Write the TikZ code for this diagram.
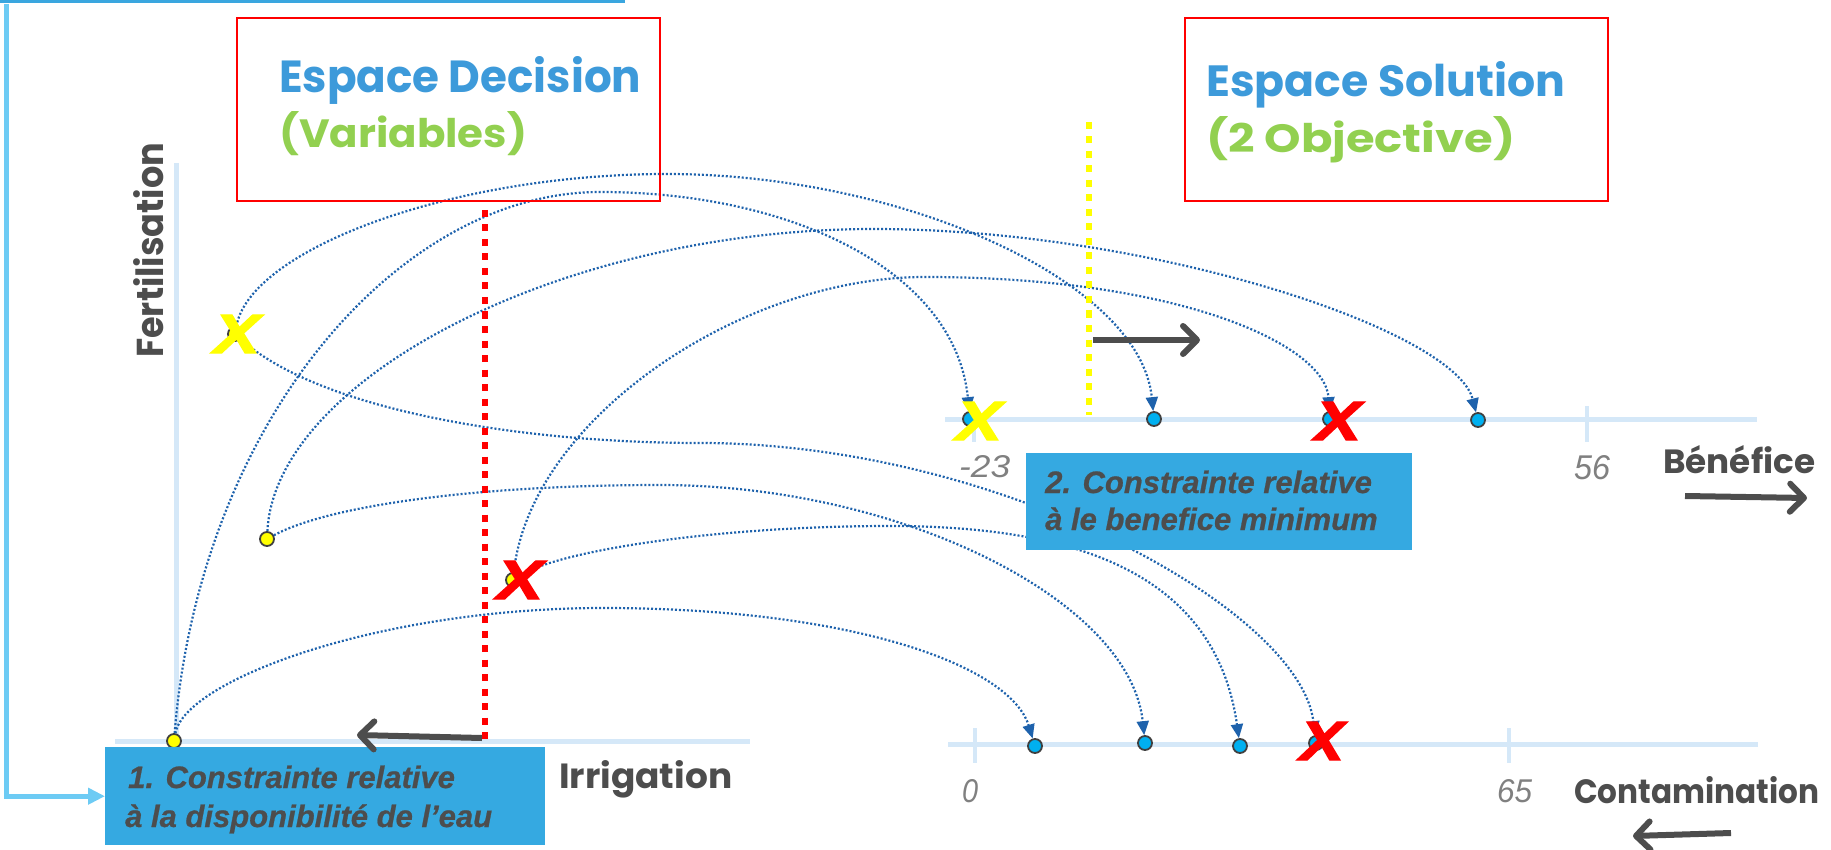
\documentclass[tikz,border=0pt]{standalone}
\usepackage{fontspec}
\setmainfont{Liberation Sans}
\newfontfamily\handfont{Poppins}
\newfontfamily\markfont[FakeBold=2.5]{Liberation Sans Bold Italic}
\newfontfamily\notefont[FakeBold=0.7]{Liberation Sans Bold Italic}
\usetikzlibrary{arrows.meta}
\definecolor{titleblue}{HTML}{3D9ADA}
\definecolor{titlegreen}{HTML}{92D050}
\definecolor{labelgray}{HTML}{4D4D4D}
\definecolor{numgray}{HTML}{808080}
\definecolor{axisblue}{HTML}{D5E8F8}
\definecolor{boxred}{HTML}{FF0000}
\definecolor{markyellow}{HTML}{FFFF00}
\definecolor{markred}{HTML}{FF0000}
\definecolor{dotcyan}{HTML}{00B0F0}
\definecolor{dotrim}{HTML}{404040}
\definecolor{linkblue}{HTML}{1E62AC}
\definecolor{noteblue}{HTML}{35A9E1}
\definecolor{frameblue}{HTML}{3AA6DF}
\definecolor{feedblue}{HTML}{6DCBF4}
\begin{document}
\begin{tikzpicture}[x=1pt,y=-1pt,
  axisline/.style={draw=axisblue,line width=5pt},
  tickline/.style={draw=axisblue,line width=4pt},
  ydot/.style={circle,inner sep=0pt,minimum size=14pt,fill=markyellow,draw=dotrim,line width=1.8pt},
  bdot/.style={circle,inner sep=0pt,minimum size=14pt,fill=dotcyan,draw=dotrim,line width=1.8pt},
  link/.style={draw=linkblue,line width=2.2pt,dash pattern=on 2pt off 2pt,
    -{Triangle[length=14pt,width=12pt]}},
  xmark/.style={inner sep=0pt,anchor=center},
  titlebox/.style={draw=boxred,line width=2pt,inner sep=0pt,anchor=north west},
  notebox/.style={fill=noteblue,inner sep=0pt,anchor=north west},
  notetext/.style={inner sep=0pt,anchor=base west,text=labelgray,
    font=\fontsize{31}{31}\selectfont\notefont},
  numtext/.style={inner sep=0pt,anchor=base west,text=numgray},
  handtext/.style={inner sep=0pt,anchor=base west},
  grayarrow/.style={draw=labelgray,line width=6pt,
    -{Straight Barb[length=14pt,width=28pt,round]}},
  reddash/.style={draw=markred,line width=6.5pt,dash pattern=on 7pt off 7.5pt},
  yellowdash/.style={draw=markyellow,line width=6.5pt,dash pattern=on 7pt off 7.5pt},
  feed/.style={draw=feedblue,line width=5pt,-{Triangle[length=17pt,width=16pt]}}]
\useasboundingbox (0,0) rectangle (1831,850);

% ---------- frame edge at the top ----------
\coordinate (frameL) at (0,1.5);
\coordinate (frameR) at (625,1.5);
\draw[frameblue,line width=3pt] (frameL) -- (frameR);

% ---------- axes of the decision space ----------
\coordinate (fertTop) at (176,163);
\coordinate (fertBot) at (176,741);
\coordinate (irrL) at (115,741);
\coordinate (irrR) at (750,741);
\draw[axisline] (fertTop) -- (fertBot);
\draw[axisline] (irrL) -- (irrR);

% ---------- axes of the solution space ----------
\coordinate (benL) at (945,419);
\coordinate (benR) at (1757,419);
\coordinate (conL) at (948,744);
\coordinate (conR) at (1758,744);
\draw[axisline] (benL) -- (benR);
\draw[axisline] (conL) -- (conR);
\coordinate (tb1a) at (974,406);  \coordinate (tb1b) at (974,442);
\coordinate (tb2a) at (1587,406); \coordinate (tb2b) at (1587,442);
\coordinate (tc1a) at (975,728);  \coordinate (tc1b) at (975,763);
\coordinate (tc2a) at (1509,728); \coordinate (tc2b) at (1509,763);
\draw[tickline] (tb1a) -- (tb1b);
\draw[tickline] (tb2a) -- (tb2b);
\draw[tickline] (tc1a) -- (tc1b);
\draw[tickline] (tc2a) -- (tc2b);

% ---------- points ----------
\node[ydot] (p1) at (235,334) {};
\node[ydot] (p2) at (267,539) {};
\node[ydot] (p3) at (513,580) {};
\node[ydot] (p4) at (174,741) {};
\node[bdot] (b1) at (970,419) {};
\node[bdot] (b2) at (1154,419) {};
\node[bdot] (b3) at (1330,419) {};
\node[bdot] (b4) at (1478,420) {};
\node[bdot] (c1) at (1035,746) {};
\node[bdot] (c2) at (1145,743) {};
\node[bdot] (c3) at (1240,746) {};
\node[bdot] (c4) at (1316,743) {};

% ---------- mappings decision -> objectives ----------
\draw[link] (p1) .. controls (250,250) and (450,174) .. (667,174)
                 .. controls (900,174) and (1140,280) .. (b2);
\draw[link] (p4) .. controls (200,420) and (400,192) .. (600,192)
                 .. controls (790,192) and (955,270) .. (b1);
\draw[link] (p2) .. controls (275,380) and (560,229) .. (874,229)
                 .. controls (1150,229) and (1455,330) .. (b4);
\draw[link] (p3) .. controls (530,420) and (740,277) .. (925,277)
                 .. controls (1180,277) and (1325,345) .. (b3);
\draw[link] (p4) .. controls (185,680) and (380,608) .. (603,608)
                 .. controls (850,608) and (1010,665) .. (c1);
\draw[link] (p1) .. controls (320,410) and (520,443) .. (700,443)
                 .. controls (1000,443) and (1300,610) .. (c4);
\draw[link] (p2) .. controls (330,505) and (480,485) .. (660,485)
                 .. controls (900,485) and (1130,600) .. (c2);
\draw[link] (p3) .. controls (560,550) and (720,526) .. (890,526)
                 .. controls (1070,526) and (1215,570) .. (c3);

% ---------- constraint limits ----------
\coordinate (redTop) at (485,210);
\coordinate (redBot) at (485,743);
\draw[reddash] (redTop) -- (redBot);
\coordinate (yelTop) at (1089,122);
\coordinate (yelBot) at (1089,415);
\draw[yellowdash] (yelTop) -- (yelBot);

% ---------- rejected points ----------
\node[xmark] (xp1) at (237,334) {\resizebox{46pt}{38pt}{\color{markyellow}\markfont X}};
\node[xmark] (xp3) at (520,580) {\resizebox{46pt}{38pt}{\color{markred}\markfont X}};
\node[xmark] (xb1) at (979,421) {\resizebox{46pt}{38pt}{\color{markyellow}\markfont X}};
\node[xmark] (xb3) at (1338,421) {\resizebox{46pt}{38pt}{\color{markred}\markfont X}};
\node[xmark] (xc4) at (1322,741) {\resizebox{44pt}{38pt}{\color{markred}\markfont X}};

% ---------- constraint notes ----------
\node[notebox,minimum width=440pt,minimum height=98pt] (note1) at (105,747) {};
\node[notetext] (note1a) at (128,788) {1. Constrainte relative};
\node[notetext] (note1b) at (125,827) {à la disponibilité de l’eau};
\node[notebox,minimum width=386pt,minimum height=97pt] (note2) at (1026,453) {};
\node[notetext] (note2a) at (1045,493) {2. Constrainte relative};
\node[notetext] (note2b) at (1045,530) {à le benefice minimum};

% ---------- space titles ----------
\node[titlebox,minimum width=423pt,minimum height=183pt] (decbox) at (236,17) {};
\node[handtext] (dect1) at (279,93) {\resizebox{362pt}{36pt}{\color{titleblue}\handfont\bfseries Espace Decision}};
\node[handtext] (dect2) at (279,148) {\resizebox{248pt}{36pt}{\color{titlegreen}\handfont\bfseries (Variables)}};
\node[titlebox,minimum width=423pt,minimum height=183pt] (solbox) at (1184,17) {};
\node[handtext] (solt1) at (1206,97) {\resizebox{359pt}{35pt}{\color{titleblue}\handfont\bfseries Espace Solution}};
\node[handtext] (solt2) at (1206,153) {\resizebox{309pt}{36pt}{\color{titlegreen}\handfont\bfseries (2 Objective)}};

% ---------- axis names ----------
\node[handtext,rotate=90] (lfert) at (163,358) {\resizebox{215pt}{30pt}{\color{labelgray}\handfont\bfseries Fertilisation}};
\node[handtext] (lirr) at (559,788) {\resizebox{173pt}{28pt}{\color{labelgray}\handfont\bfseries Irrigation}};
\node[handtext] (lben) at (1663,473) {\resizebox{152pt}{28pt}{\color{labelgray}\handfont\bfseries Bénéfice}};
\node[handtext] (lcon) at (1574,803) {\resizebox{245pt}{27pt}{\color{labelgray}\handfont\bfseries Contamination}};

% ---------- scale values ----------
\node[numtext] (nb1) at (959,477) {\resizebox{51pt}{22pt}{\itshape -23}};
\node[numtext] (nb2) at (1574,479) {\resizebox{36pt}{24pt}{\itshape 56}};
\node[numtext] (nc1) at (962,802) {\resizebox{16pt}{23pt}{\itshape 0}};
\node[numtext] (nc2) at (1497,802) {\resizebox{35pt}{23pt}{\itshape 65}};

% ---------- direction arrows ----------
\coordinate (irrA) at (482,738);  \coordinate (irrB) at (357,735);
\coordinate (minA) at (1093,340); \coordinate (minB) at (1200,340);
\coordinate (benA) at (1685,496); \coordinate (benB) at (1807,498);
\coordinate (conA) at (1731,833); \coordinate (conB) at (1633,836);
\draw[grayarrow] (irrA) -- (irrB);
\draw[grayarrow] (minA) -- (minB);
\draw[grayarrow] (benA) -- (benB);
\draw[grayarrow] (conA) -- (conB);

% ---------- feedback connector to the first constraint ----------
\coordinate (feedTop) at (6,4);
\draw[feed] (feedTop) |- (note1.west);
\end{tikzpicture}
\end{document}
